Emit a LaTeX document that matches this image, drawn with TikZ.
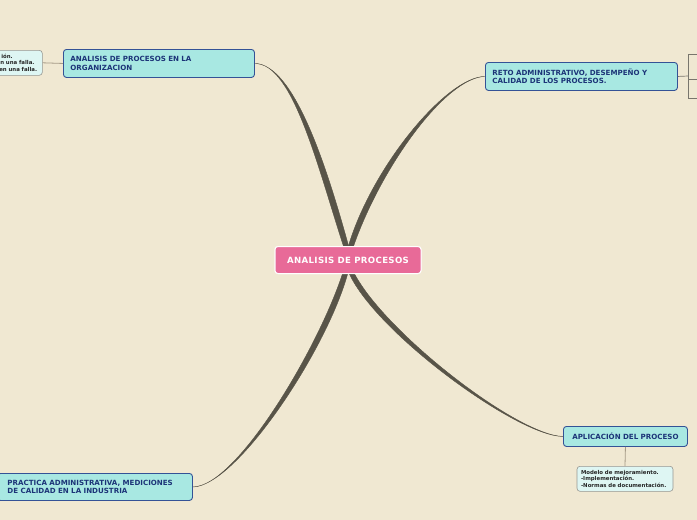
\documentclass[tikz,border=0pt]{standalone}
\usepackage{fontspec}
\setmainfont{DejaVu Sans}
\usetikzlibrary{calc}
\definecolor{bg}{RGB}{240,232,210}
\definecolor{pinkc}{RGB}{232,106,152}
\definecolor{cyanf}{RGB}{168,232,226}
\definecolor{blueb}{RGB}{52,82,150}
\definecolor{bluet}{RGB}{28,52,120}
\definecolor{branchc}{RGB}{88,84,72}
\definecolor{lightf}{RGB}{222,246,243}
\definecolor{grayb}{RGB}{150,150,145}
\definecolor{thinc}{RGB}{165,155,135}
\tikzset{
  topic/.style={draw=blueb, line width=0.9pt, fill=cyanf, rounded corners=3pt,
    text=bluet, font=\fontsize{7.1}{8.3}\selectfont\bfseries, align=left,
    inner xsep=7pt, inner ysep=2pt},
  notebox/.style={draw=grayb, line width=0.6pt, fill=lightf, rounded corners=3pt,
    text=black!85, font=\fontsize{5.4}{6.6}\selectfont\bfseries, align=left,
    inner xsep=4pt, inner ysep=2pt},
  centre/.style={draw=white, line width=1pt, fill=pinkc, rounded corners=3pt, text=white,
    font=\fontsize{8.6}{10}\selectfont\bfseries\addfontfeature{LetterSpace=4},
    minimum width=146pt, minimum height=27pt},
  branch/.style={fill=branchc, draw=branchc, line width=0.4pt},
  thin/.style={draw=thinc, line width=0.8pt},
  bracket/.style={draw=branchc!80, line width=0.7pt}
}
\begin{document}
\begin{tikzpicture}[x=1pt,y=-1pt]
\useasboundingbox[fill=bg] (0,0) rectangle (697,520);

% central
\node[centre] (c) at (348,260) {ANALISIS DE PROCESOS};

% topics
\node[topic, anchor=north west, minimum width=191pt, minimum height=28pt, text width=177pt]
  (tl) at (63,49) {ANALISIS DE PROCESOS EN LA\\ORGANIZACION};
\node[topic, anchor=north west, minimum width=192pt, minimum height=28pt, text width=178pt]
  (tr) at (485,62) {RETO ADMINISTRATIVO, DESEMPEÑO Y\\CALIDAD DE LOS PROCESOS.};
\node[topic, anchor=north west, minimum width=124pt, minimum height=20pt, text width=118pt, align=center, inner xsep=3pt]
  (ap) at (563,426) {APLICACIÓN DEL PROCESO};
\node[topic, anchor=north west, minimum width=192pt, minimum height=27pt, text width=175pt, inner xsep=10pt]
  (pr) at (-3,473) {PRACTICA ADMINISTRATIVA, MEDICIONES\\DE CALIDAD EN LA INDUSTRIA};

% notes
\node[notebox, anchor=north west, minimum width=48pt, minimum height=25pt, text width=46pt, inner xsep=0pt]
  (ln) at (-6,50) {\hspace*{6pt}ión.\\\hspace*{5pt}n una falla.\\\hspace*{4pt}en una falla.};
\node[notebox, anchor=north, minimum width=95pt, minimum height=25pt, text width=88pt]
  (an) at (625,466) {Modelo de mejoramiento.\\-Implementación.\\-Normas de documentación.};

% thin connectors
\draw[thin] (ln.east) -- (tl.west);
\draw[thin] (ap.south) -- (an.north);

% right bracket
\coordinate (bj) at (688,76);
\coordinate (b1) at (688,54);
\coordinate (b2) at (688,79);
\coordinate (b3) at (688,98);
\draw[bracket] (tr.east) -- (bj);
\draw[bracket] (b1) -- (b3);
\draw[bracket] (b1) -- ++(12,0);
\draw[bracket] (b2) -- ++(12,0);
\draw[bracket] (b3) -- ++(12,0);

% tapered branches
\coordinate (e1) at ($(c.north)+(-2,0)$);
\coordinate (e2) at ($(c.north)+(3,0)$);
\coordinate (e3) at ($(c.south)+(-3,0)$);
\coordinate (e4) at ($(c.south)+(4,0)$);

\path[branch] (tl.east) .. controls +(38,0) and +(-26,-80) .. ($(e1)+(-2.6,0)$)
  -- ($(e1)+(2.6,0)$) .. controls +(-22,-80) and +(39,1) .. (tl.east) -- cycle;
\path[branch] (tr.west) .. controls +(-38,0) and +(24,-80) .. ($(e2)+(-2.6,0)$)
  -- ($(e2)+(2.6,0)$) .. controls +(28,-80) and +(-39,1) .. (tr.west) -- cycle;
\path[branch] (pr.east) .. controls +(43,0) and +(-25,76) .. ($(e3)+(-2.6,0)$)
  -- ($(e3)+(2.6,0)$) .. controls +(-21,76) and +(44,-1) .. (pr.east) -- cycle;
\path[branch] (ap.west) .. controls +(-45,0) and +(28,60) .. ($(e4)+(-2.6,0)$)
  -- ($(e4)+(2.6,0)$) .. controls +(32,60) and +(-45,-1) .. (ap.west) -- cycle;

% central node on top
\node[centre] (c2) at (c) {ANALISIS DE PROCESOS};
\end{tikzpicture}
\end{document}
